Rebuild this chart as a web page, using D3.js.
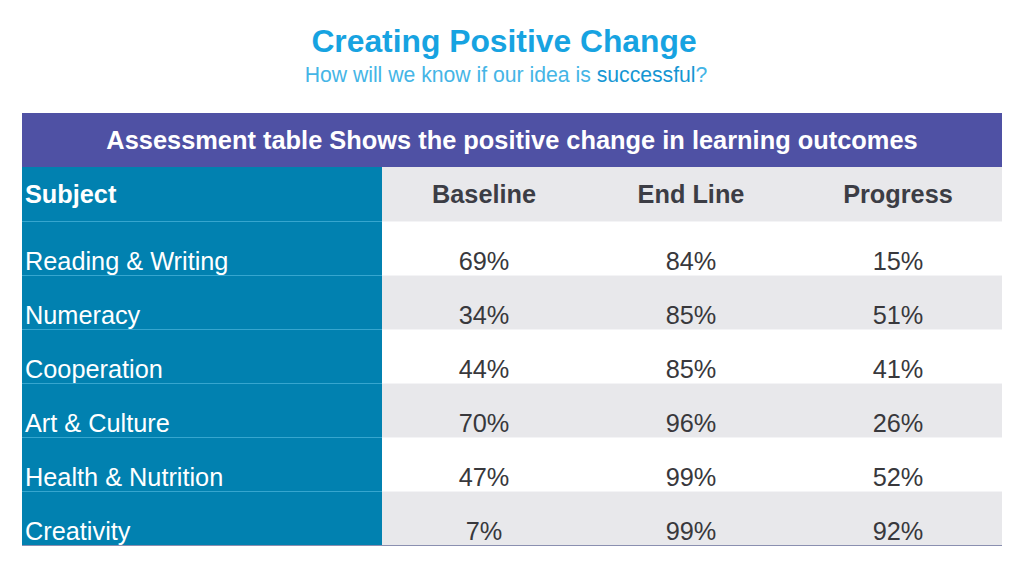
<!DOCTYPE html>
<html><head><meta charset="utf-8">
<script src="https://cdn.jsdelivr.net/npm/d3@7"></script>
<style>body{margin:0;background:#fff;}svg{display:block;font-family:"Liberation Sans",Arial,sans-serif;}</style>
</head><body>
<svg id="c" width="1024" height="576"></svg>
<script>
const subjects = ["Reading & Writing","Numeracy","Cooperation","Art & Culture","Health & Nutrition","Creativity"];
const columns = ["Baseline","End Line","Progress"];
const baseline = [69,34,44,70,47,7];
const endLine = [84,85,85,96,99,99];
const progress = [15,51,41,26,52,92];
const title = "Creating Positive Change";
const bandTitle = "Assessment table Shows the positive change in learning outcomes";

const svg = d3.select("#c");
const L = 22, R = 1002, firstColR = 382;
const FS = 25.3;
// titles
svg.append("text").attr("x",504).attr("y",52).attr("text-anchor","middle")
  .attr("font-size",31.8).attr("font-weight","bold").attr("fill","#17a3e1").text(title);
const st = svg.append("text").attr("x",506).attr("y",82).attr("text-anchor","middle")
  .attr("font-size",21.2).attr("fill","#45b5e6");
st.append("tspan").text("How will we know if our idea is ");
st.append("tspan").attr("fill","#1596d3").text("successful");
st.append("tspan").text("?");

// band
svg.append("rect").attr("x",L).attr("y",113).attr("width",R-L).attr("height",54).attr("fill","#4f51a4");
svg.append("text").attr("x",512).attr("y",149).attr("text-anchor","middle").attr("font-size",25.4)
  .attr("font-weight","bold").attr("fill","#fff").text(bandTitle);

const rowKeys = ["__header"].concat(subjects);
const y = d3.scaleBand().domain(rowKeys).range([167,545]).padding(0);
const x = d3.scalePoint().domain(columns).range([484,898]);

const rows = rowKeys.map((k,i)=>({key:k,i,
  vals: i===0 ? columns : [baseline[i-1],endLine[i-1],progress[i-1]].map(v=>v+"%")}));

// right area backgrounds
svg.selectAll("rect.bg").data(rows).join("rect").attr("class","bg")
  .attr("x",firstColR).attr("y",d=>y(d.key)).attr("width",R-firstColR).attr("height",y.bandwidth())
  .attr("fill",d=>d.i%2===0?"#e8e8eb":"#ffffff");
// first column
svg.append("rect").attr("x",L).attr("y",167).attr("width",firstColR-L).attr("height",378).attr("fill","#0181b0");
// separators
svg.selectAll("line.sep").data(rows.slice(1)).join("line").attr("class","sep")
  .attr("x1",L).attr("x2",firstColR).attr("y1",d=>y(d.key)+0.5).attr("y2",d=>y(d.key)+0.5)
  .attr("stroke","#36a6cf").attr("stroke-width",1);
svg.selectAll("line.sep2").data(rows.slice(1)).join("line").attr("class","sep2")
  .attr("x1",firstColR).attr("x2",R).attr("y1",d=>y(d.key)+0.5).attr("y2",d=>y(d.key)+0.5)
  .attr("stroke","#f4f4f6").attr("stroke-width",1);
svg.append("line").attr("x1",L).attr("x2",R).attr("y1",545.5).attr("y2",545.5).attr("stroke","#8a8fb0").attr("stroke-width",1.2);

// header texts
svg.append("text").attr("x",25).attr("y",y("__header")+36).attr("font-size",FS).attr("font-weight","bold")
  .attr("fill","#fff").text("Subject");
svg.selectAll("text.hdr").data(columns).join("text").attr("class","hdr")
  .attr("x",d=>x(d)).attr("y",y("__header")+36).attr("text-anchor","middle").attr("font-size",FS)
  .attr("font-weight","bold").attr("fill","#3c3d45").text(d=>d);

// body
const body = rows.slice(1);
svg.selectAll("text.subj").data(body).join("text").attr("class","subj")
  .attr("x",25).attr("y",d=>y(d.key)+49).attr("font-size",FS).attr("fill","#fff").text(d=>d.key);
body.forEach(r=>{
  svg.selectAll(null).data(columns.map((c,j)=>({c,v:r.vals[j]}))).join("text")
    .attr("x",d=>x(d.c)).attr("y",y(r.key)+49).attr("text-anchor","middle").attr("font-size",FS)
    .attr("fill","#38383c").text(d=>d.v);
});
</script>
</body></html>
